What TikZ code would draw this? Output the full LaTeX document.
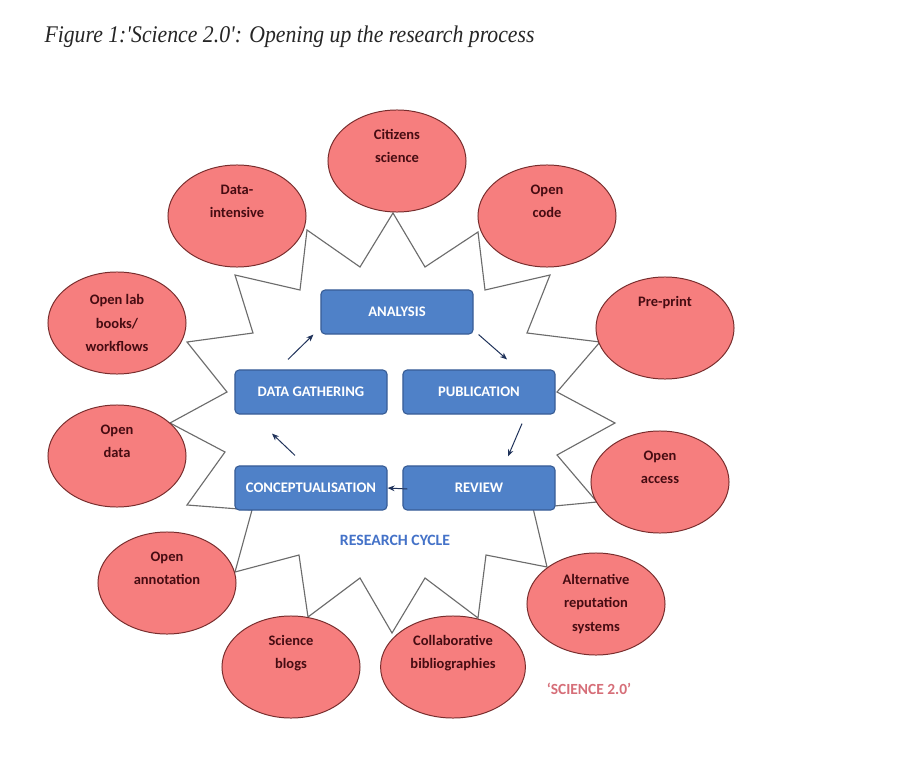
\documentclass[tikz,border=0pt]{standalone}
\usepackage{fontspec}
\setmainfont{Liberation Serif}
\newfontfamily\cali{Carlito}
\usetikzlibrary{shapes.geometric,arrows.meta}
\definecolor{bubfill}{RGB}{246,126,126}
\definecolor{bubline}{RGB}{120,45,45}
\definecolor{bubtext}{RGB}{70,12,18}
\definecolor{boxfill}{RGB}{79,129,200}
\definecolor{boxline}{RGB}{56,93,150}
\definecolor{cycleblue}{RGB}{68,114,200}
\definecolor{scired}{RGB}{214,110,120}
\definecolor{arrowblue}{RGB}{31,50,90}

\begin{document}
\begin{tikzpicture}[x=0.025cm,y=-0.025cm,
  bubble/.style={ellipse,draw=bubline,fill=bubfill,line width=0.7pt,
    minimum width=3.45cm,minimum height=2.55cm,inner sep=0pt,align=center,
    text=bubtext,font=\cali\bfseries\fontsize{10.3}{16.4}\selectfont},
  stage/.style={rectangle,rounded corners=3pt,draw=boxline,fill=boxfill,
    line width=0.8pt,minimum width=3.8cm,minimum height=1.1cm,text=white,
    font=\cali\bfseries\fontsize{10.4}{12}\selectfont},
  flow/.style={draw=arrowblue,line width=0.7pt,-{Stealth[length=5pt,width=4pt]}},
  starline/.style={draw=gray!85!black,line width=0.8pt}]
\fill[white] (0,0) rectangle (922,775);
\useasboundingbox (0,0) rectangle (922,775);
% title
\node[anchor=west,font=\itshape\fontsize{17}{20}\selectfont,text=black!85,xscale=0.91] (title) at (40,37)
  {Figure 1:\textquotesingle Science 2.0\textquotesingle: Opening up the research process};
% the science 2.0 star
\draw[starline] (393,213) -- (425,267) -- (478,232) -- (485,290) -- (550,275)
  -- (527,333) -- (600,342) -- (557,392) -- (615,423) -- (557,455) -- (597,502)
  -- (533,508) -- (547,567) -- (486,555) -- (478,618) -- (425,578) -- (392,633)
  -- (360,578) -- (308,617) -- (299,555) -- (235,572) -- (252,510) -- (187,505)
  -- (225,452) -- (170,423) -- (227,392) -- (187,342) -- (253,333) -- (235,275)
  -- (300,290) -- (307,230) -- (360,267) -- cycle;
% bubbles
\node[bubble] (cit) at (397,161) {Citizens\\science\\\strut};
\node[bubble] (dint) at (237,216) {Data-\\intensive\\\strut};
\node[bubble] (ocode) at (547,216) {Open\\code\\\strut};
\node[bubble] (olab) at (117,323) {Open lab\\books/\\workflows};
\node[bubble] (preprint) at (665,328) {Pre-print\\\strut\\\strut};
\node[bubble] (odata) at (117,456) {Open\\data\\\strut};
\node[bubble] (oacc) at (660,482) {Open\\access\\\strut};
\node[bubble] (oann) at (167,583) {Open\\annotation\\\strut};
\node[bubble] (blogs) at (291,667) {Science\\blogs\\\strut};
\node[bubble,minimum width=3.62cm] (collab) at (453,667) {Collaborative\\bibliographies\\\strut};
\node[bubble] (altrep) at (596,604) {Alternative\\reputation\\systems};
% research cycle
\node[stage] (ana) at (397,312) {ANALYSIS};
\node[stage] (dg) at (311,392) {DATA GATHERING};
\node[stage] (pub) at (479,392) {PUBLICATION};
\node[stage] (con) at (311,488) {CONCEPTUALISATION};
\node[stage] (rev) at (479,488) {REVIEW};
\draw[flow] ([shift={(-23,-10)}]dg.north) -- ([shift={(-7,0)}]ana.south west);
\draw[flow] ([shift={(5,0)}]ana.south east) -- ([shift={(28,-10)}]pub.north);
\draw[flow] ([shift={(43,9)}]pub.south) -- ([shift={(29,-9)}]rev.north);
\draw[flow] ([shift={(5,1)}]rev.west) -- (con.east);
\draw[flow] ([shift={(-16,-10)}]con.north) -- ([shift={(-39,19)}]dg.south);
\node[text=cycleblue,font=\cali\bfseries\fontsize{11.2}{13}\selectfont] (cycle) at (395,540) {RESEARCH CYCLE};
\node[text=scired,font=\cali\bfseries\fontsize{11}{13}\selectfont] (sci) at (589,689) {‘SCIENCE 2.0’};
\end{tikzpicture}
\end{document}
